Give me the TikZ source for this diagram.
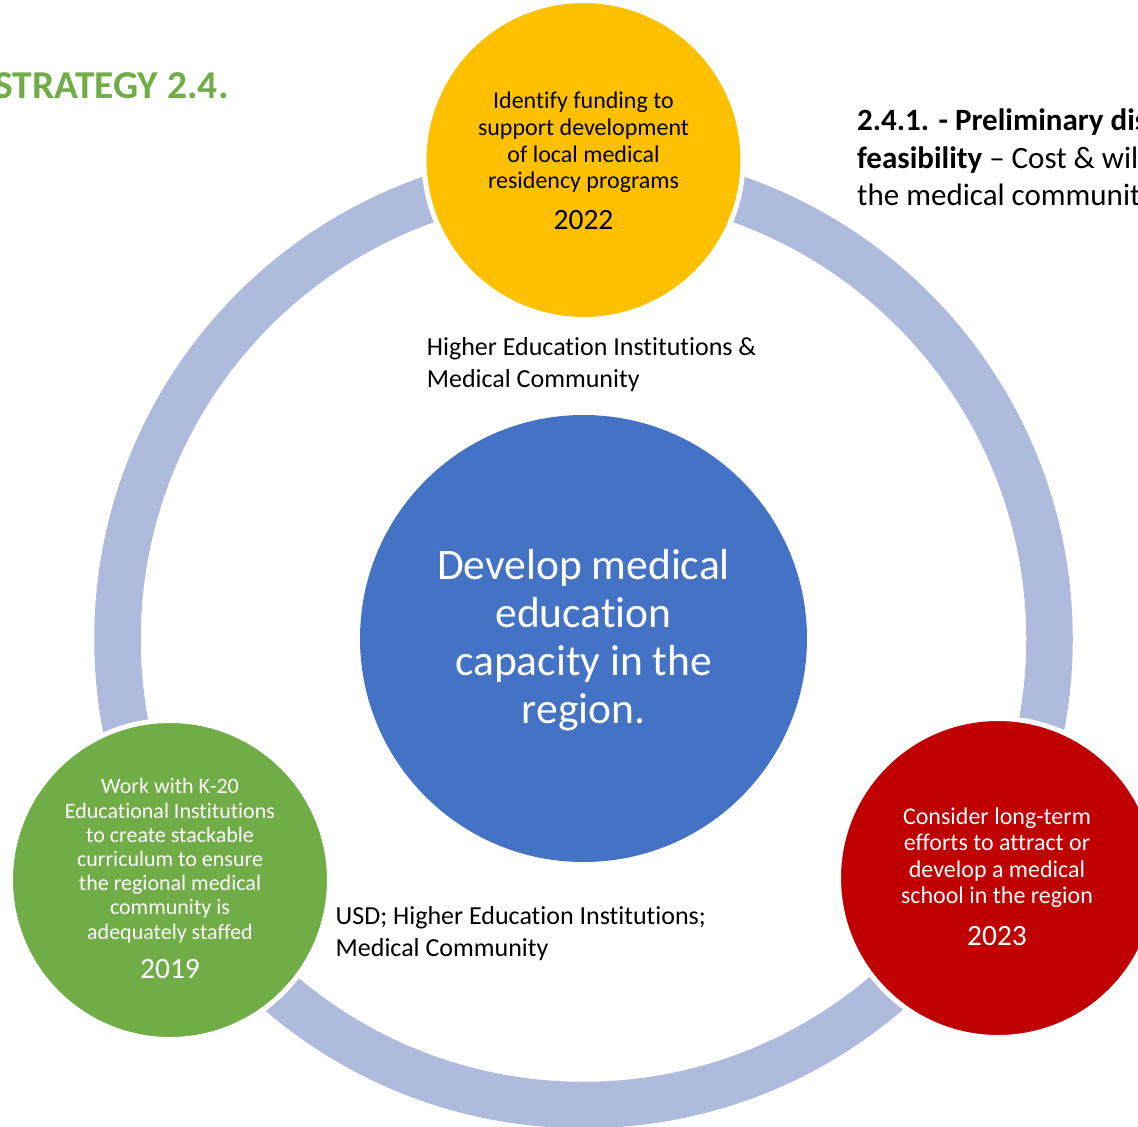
\documentclass[tikz,border=0pt]{standalone}
\usepackage{fontspec}
\setmainfont[Ligatures=NoCommon]{Carlito}
\definecolor{stratgreen}{RGB}{112, 173, 71}
\definecolor{stratyellow}{RGB}{255, 192, 0}
\definecolor{stratblue}{RGB}{68, 114, 196}
\definecolor{stratred}{RGB}{192, 0, 0}
\definecolor{stratring}{RGB}{175, 187, 221}

\begin{document}
\begin{tikzpicture}[x=1pt,y=-1pt,
    phase/.style={circle, draw=white, line width=5pt, minimum size=319pt, inner sep=0pt},
    phasetext/.style={anchor=north, align=center, inner sep=0pt},
    year/.style={anchor=base, inner sep=0pt, font=\fontsize{29.5}{32}\selectfont},
    partners/.style={anchor=north west, align=left, inner sep=0pt, font=\fontsize{26}{31.5}\selectfont}]
    \useasboundingbox (0,0) rectangle (1138,1127);
    \clip (0,0) rectangle (1138,1127);

    % ring joining the three phases
    \draw[stratring, line width=46.5pt] (583.5,639) circle (466pt);

    % goal in the middle
    \node[circle, fill=stratblue, minimum size=447pt, inner sep=0pt] (goal) at (583.5,638.5) {};
    \node[phasetext, text=white, font=\fontsize{43.5}{48}\selectfont] (goaltext) at (583.5,549)
        {Develop medical\\education\\capacity in the\\region.};

    % phases
    \node[phase, fill=stratyellow] (funding) at (583.5,160) {};
    \node[phase, fill=stratgreen] (staffing) at (170,880) {};
    \node[phase, fill=stratred] (school) at (998,878) {};

    \node[phasetext, font=\fontsize{24}{26.7}\selectfont] (fundingtext) at (583.5,92)
        {Identify funding to\\support development\\of local medical\\residency programs};
    \node[year] (fundingyear) at (583.5,229.5) {2022};

    \node[phasetext, text=white, font=\fontsize{22}{24.2}\selectfont] (staffingtext) at (170,778.5)
        {Work with K-20\\Educational Institutions\\to create stackable\\curriculum to ensure\\the regional medical\\community is\\adequately staffed};
    \node[year, text=white] (staffingyear) at (170,978.5) {2019};

    \node[phasetext, text=white, font=\fontsize{24}{26.4}\selectfont] (schooltext) at (997,807.5)
        {Consider long-term\\efforts to attract or\\develop a medical\\school in the region};
    \node[year, text=white] (schoolyear) at (997,945) {2023};

    % partner labels
    \node[partners] (fundingpartners) at (426.7,337.5)
        {Higher Education Institutions \&\\Medical Community};
    \node[partners] (staffingpartners) at (335.5,906.5)
        {USD; Higher Education Institutions;\\Medical Community};

    % headings
    \node[anchor=base west, inner sep=0pt, text=stratgreen, font=\fontsize{39.5}{44}\selectfont\bfseries] (strategy) at (-6,98)
        {STRATEGY 2.4.};
    \node[anchor=north west, align=left, inner sep=0pt, font=\fontsize{31}{37.5}\selectfont] (action) at (857,109)
        {\textbf{2.4.1. - Preliminary discussion}\\\textbf{feasibility} -- Cost \& willingness\\the medical community};
\end{tikzpicture}
\end{document}
